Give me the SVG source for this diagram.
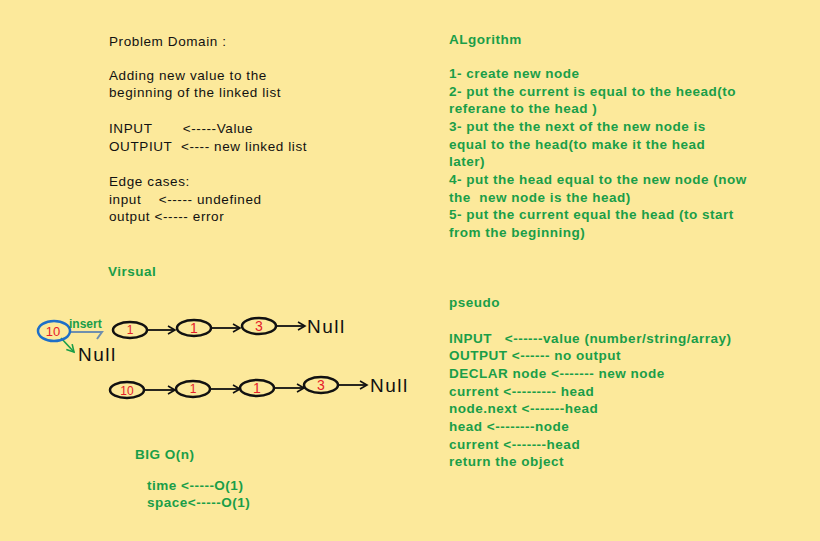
<svg xmlns="http://www.w3.org/2000/svg" width="820" height="541" viewBox="0 0 820 541" xml:space="preserve">
<defs>
<style>
text{white-space:pre}
.t{font-family:"Liberation Sans","DejaVu Sans",sans-serif;font-size:13.5px;letter-spacing:0.6px;fill:#111}
.g{font-family:"Liberation Sans","DejaVu Sans",sans-serif;font-size:13.5px;letter-spacing:0.5px;fill:#1a9e48;font-weight:bold}
.n{fill:none;stroke:#111;stroke-width:2.5}
.v{font-family:"Liberation Sans","DejaVu Sans",sans-serif;font-size:12px;fill:#e5202a;text-anchor:middle}
.c{fill:none;stroke:#111;stroke-width:1.8}
.null{font-family:"Liberation Sans","DejaVu Sans",sans-serif;font-size:19px;letter-spacing:1.5px;fill:#111}
</style>
<marker id="ah" markerWidth="10" markerHeight="10" refX="8" refY="5" orient="auto" markerUnits="userSpaceOnUse">
<path d="M1,1 L8,5 L1,9" fill="none" stroke="#111" stroke-width="1.6"/>
</marker>
<marker id="ahg" markerWidth="10" markerHeight="10" refX="8" refY="5" orient="auto" markerUnits="userSpaceOnUse">
<path d="M1,1 L8,5 L1,9" fill="none" stroke="#1a9e48" stroke-width="1.6"/>
</marker>
</defs>
<rect width="820" height="541" fill="#fce99b"/>
<g id="problem-domain">
<text class="t" x="109" y="46">Problem Domain :</text>
<text class="t" x="109" y="80">Adding new value to the</text>
<text class="t" x="109" y="97">beginning of the linked list</text>
<text class="t" x="109" y="133">INPUT       &lt;-----Value</text>
<text class="t" x="109" y="151">OUTPIUT  &lt;---- new linked list</text>
<text class="t" x="109" y="186">Edge cases:</text>
<text class="t" x="109" y="204">input    &lt;----- undefined</text>
<text class="t" x="109" y="221">output &lt;----- error</text>
</g>
<g id="algorithm">
<text class="g" x="449" y="44">ALgorithm</text>
<text class="g" x="449" y="78">1- create new node</text>
<text class="g" x="449" y="96">2- put the current is equal to the heead(to</text>
<text class="g" x="449" y="113">referane to the head )</text>
<text class="g" x="449" y="131">3- put the the next of the new node is</text>
<text class="g" x="449" y="149">equal to the head(to make it the head</text>
<text class="g" x="449" y="166">later)</text>
<text class="g" x="449" y="184">4- put the head equal to the new node (now</text>
<text class="g" x="449" y="202">the  new node is the head)</text>
<text class="g" x="449" y="219">5- put the current equal the head (to start</text>
<text class="g" x="449" y="237">from the beginning)</text>
</g>
<g id="pseudo">
<text class="g" x="449" y="307">pseudo</text>
<text class="g" x="449" y="343">INPUT   &lt;------value (number/string/array)</text>
<text class="g" x="449" y="360">OUTPUT &lt;------ no output</text>
<text class="g" x="449" y="378">DECLAR node &lt;------- new node</text>
<text class="g" x="449" y="396">current &lt;--------- head</text>
<text class="g" x="449" y="413">node.next &lt;-------head</text>
<text class="g" x="449" y="431">head &lt;--------node</text>
<text class="g" x="449" y="449">current &lt;-------head</text>
<text class="g" x="449" y="466">return the object</text>
</g>
<g id="visual-title">
<text class="g" x="108" y="276">Virsual</text>
</g>
<g id="bigo">
<text class="g" x="135" y="459">BIG O(n)</text>
<text class="g" x="147" y="490">time &lt;-----O(1)</text>
<text class="g" x="147" y="507">space&lt;-----O(1)</text>
</g>
<g id="connectors">
<path class="c" d="M147,330 L175,330" marker-end="url(#ah)"/>
<path class="c" d="M211,328 L240,328" marker-end="url(#ah)"/>
<path class="c" d="M276,326 L305,326" marker-end="url(#ah)"/>
<path d="M61,338 L74,352" fill="none" stroke="#1a9e48" stroke-width="1.6" marker-end="url(#ahg)"/>
<path d="M70,332 L102,332 L97,339" fill="none" stroke="#6f8fae" stroke-width="2"/>
<path class="c" d="M144,390 L175,390" marker-end="url(#ah)"/>
<path class="c" d="M210,389 L240,389" marker-end="url(#ah)"/>
<path class="c" d="M274,388 L304,388" marker-end="url(#ah)"/>
<path class="c" d="M338,385 L367,385" marker-end="url(#ah)"/>
</g>
<g id="new-node-10">
<ellipse cx="54" cy="331" rx="16" ry="10" fill="none" stroke="#1e6fc8" stroke-width="2.5"/>
<text class="v" x="53" y="336" style="font-size:13px">10</text>
</g>
<g id="insert-label">
<text x="69" y="328" style="font-family:'Liberation Sans',sans-serif;font-size:12px;fill:#1a9e48;font-weight:bold">insert</text>
</g>
<g id="null-a"><text class="null" x="78" y="361">Null</text></g>
<g id="r1-node-1"><ellipse class="n" cx="130" cy="330" rx="17" ry="8"/><text class="v" x="130" y="334">1</text></g>
<g id="r1-node-2"><ellipse class="n" cx="194" cy="328" rx="17" ry="8"/><text class="v" x="194" y="333" style="font-size:14px">1</text></g>
<g id="r1-node-3"><ellipse class="n" cx="259" cy="326" rx="17" ry="8"/><text class="v" x="259" y="331" style="font-size:14px">3</text></g>
<g id="null-1"><text class="null" x="307" y="333">Null</text></g>
<g id="r2-node-10"><ellipse class="n" cx="127" cy="390" rx="17" ry="8"/><text class="v" x="127" y="395">10</text></g>
<g id="r2-node-1"><ellipse class="n" cx="193" cy="389" rx="17" ry="8"/><text class="v" x="193" y="393">1</text></g>
<g id="r2-node-1b"><ellipse class="n" cx="257" cy="388" rx="17" ry="8"/><text class="v" x="257" y="393" style="font-size:14px">1</text></g>
<g id="r2-node-3"><ellipse class="n" cx="321" cy="385" rx="17" ry="8"/><text class="v" x="321" y="390" style="font-size:14px">3</text></g>
<g id="null-2"><text class="null" x="370" y="392">Null</text></g>
</svg>
